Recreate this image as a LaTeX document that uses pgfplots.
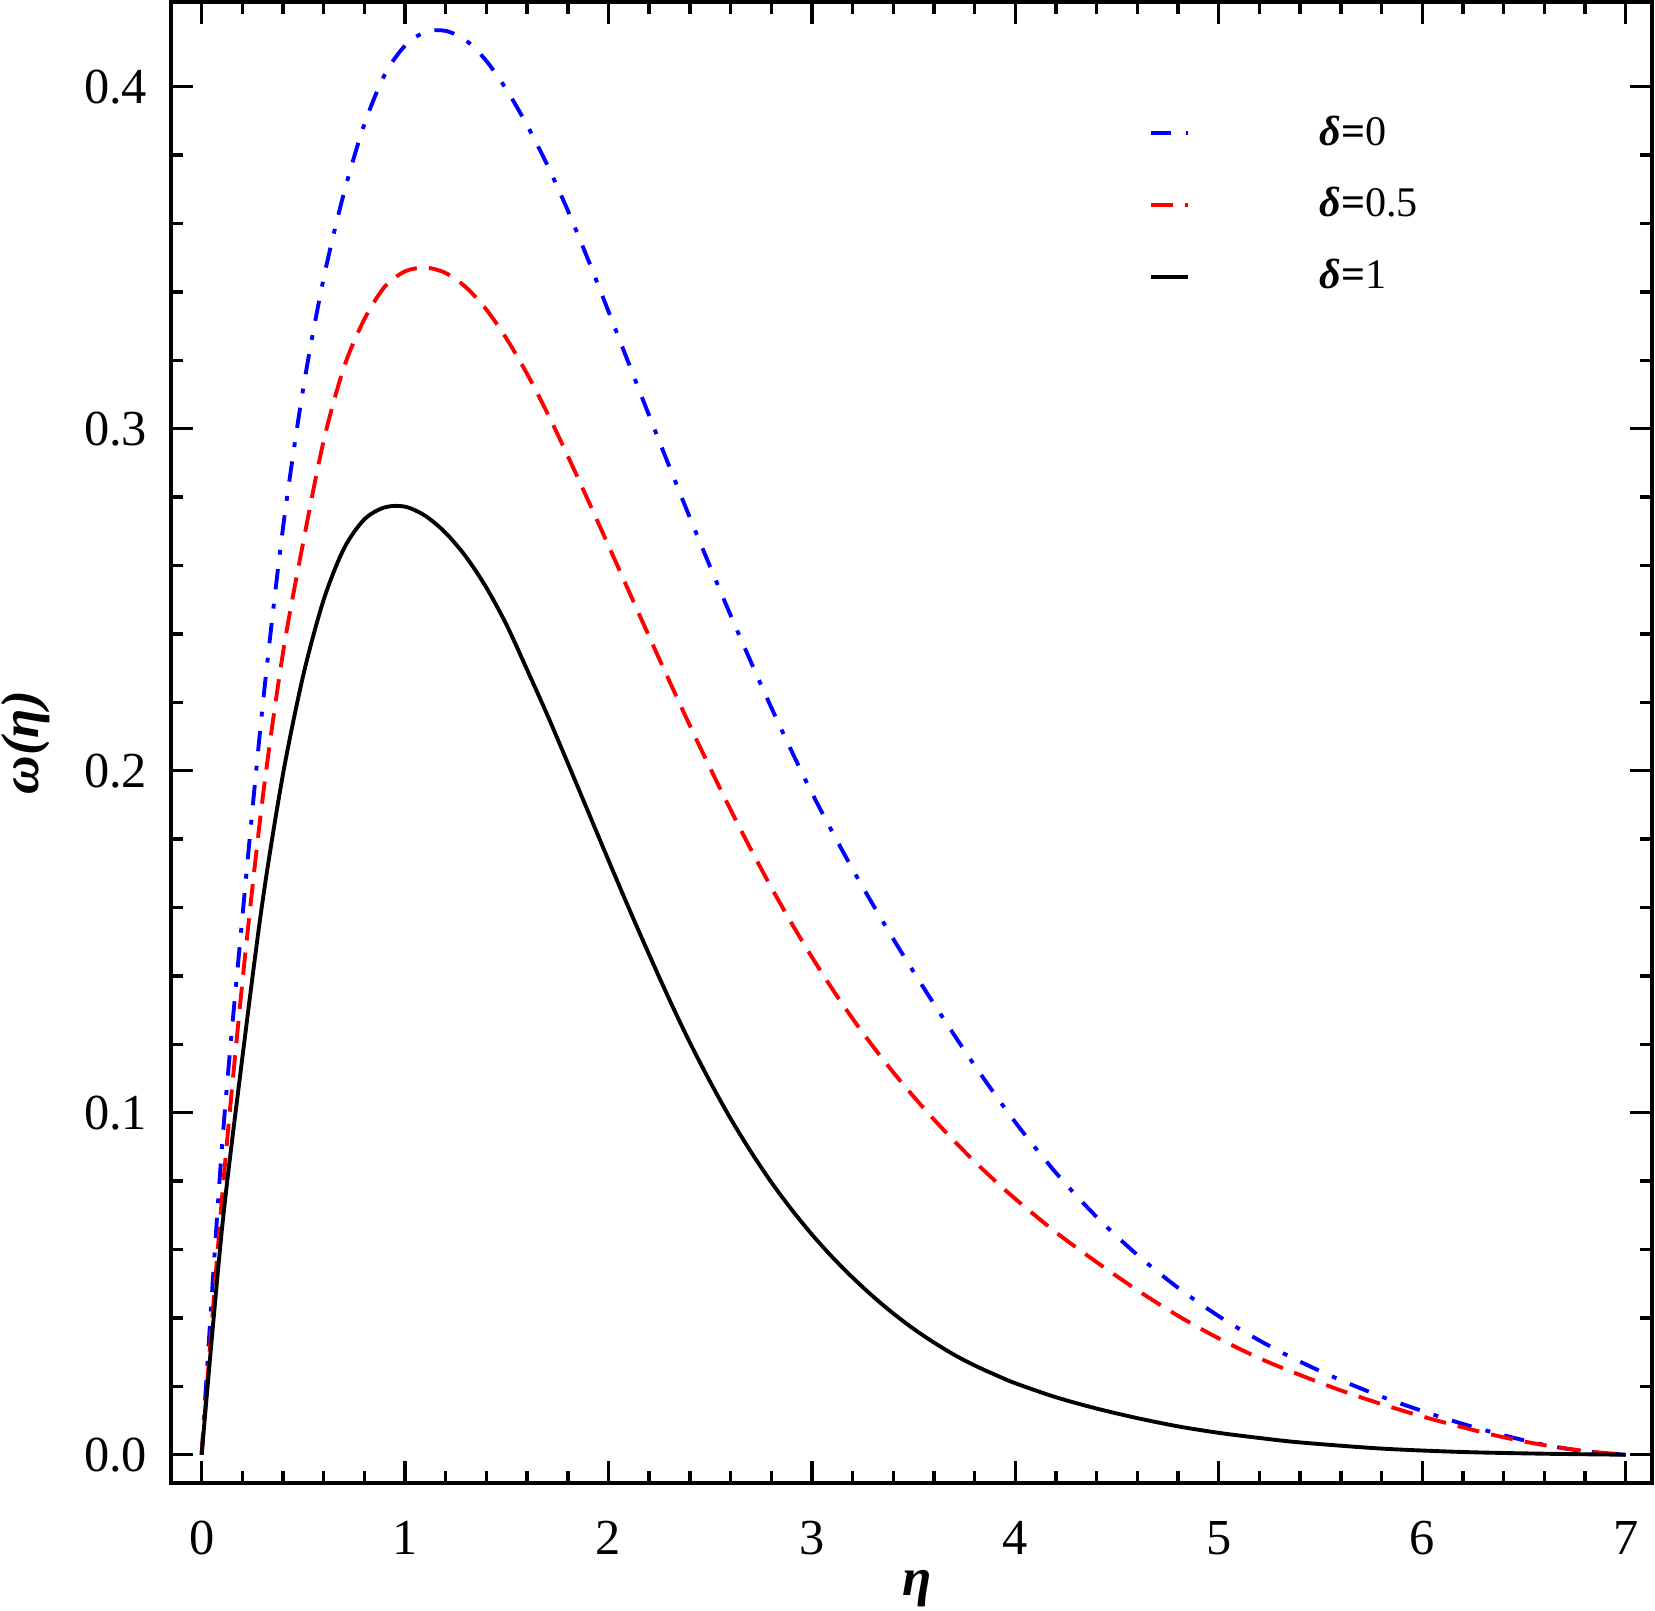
\documentclass[border=0pt]{standalone}
\usepackage{fontspec}
\setmainfont{Liberation Serif}
\usepackage{pgfplots}
\pgfplotsset{compat=1.18}

\begin{document}
\begin{tikzpicture}
\begin{axis}[
  scale only axis,
  width=305.5pt, height=305.5pt,
  xmin=-0.15, xmax=7.13,
  ymin=-0.0083, ymax=0.4247,
  xtick={0,1,...,7},
  ytick={0,0.1,0.2,0.3,0.4},
  minor x tick num=4,
  minor y tick num=4,
  tick align=inside,
  major tick length=4.5pt,
  minor tick length=2.4pt,
  every tick/.style={black, line width=0.7pt},
  axis line style={line width=0.9pt},
  /pgf/number format/assume math mode=true,
  yticklabel style={/pgf/number format/fixed, /pgf/number format/fixed zerofill,
    /pgf/number format/precision=1, xshift=-1.4pt},
  xticklabel style={yshift=-4.3pt},
  ticklabel style={font=\fontsize{10.4}{12}\selectfont},
  xlabel={\textbf{\textit{η}}},
  ylabel={\textbf{\textit{ω(η)}}},
  label style={font=\fontsize{11}{13}\selectfont, inner sep=0pt},
  xlabel style={at={(axis description cs:0.504,-0.071)}, anchor=center},
  ylabel style={at={(axis description cs:-0.098,0.5)}, anchor=center},
  legend style={at={(axis description cs:0.6597,0.927)}, anchor=north west,
    draw=none, fill=none, inner sep=0pt, row sep=5.8pt, column sep=0pt,
    font=\fontsize{8.7}{11}\selectfont,
    nodes={inner sep=0pt, text height=7pt, text depth=2pt}},
  legend cell align=left,
  legend image code/.code={\draw[#1] (0pt,0pt) -- (7.6pt,0pt);},
]
% delta = 0
\addplot[blue, line width=0.8pt, dash pattern=on 4.2pt off 3pt on 1pt off 3pt, smooth, tension=0.5] coordinates {
(0,0) (0.1,0.090) (0.2,0.157) (0.3,0.219) (0.4,0.271) (0.5,0.312) (0.6,0.344)
(0.7,0.369) (0.8,0.389) (0.9,0.4035) (1.0,0.4120) (1.1,0.4160) (1.2,0.4163)
(1.3,0.4135) (1.4,0.4075) (1.5,0.3990) (1.6,0.3887) (1.7,0.3770) (1.8,0.3638)
(1.9,0.3494) (2.0,0.3343) (2.2,0.3038) (2.4,0.2740) (2.6,0.2455) (2.8,0.2185)
(3.0,0.1935) (3.2,0.1712) (3.4,0.1508) (3.6,0.1318) (3.8,0.1138) (4.0,0.0972)
(4.2,0.0824) (4.4,0.0695) (4.6,0.0584) (4.8,0.0488) (5.0,0.0405) (5.2,0.0334)
(5.4,0.0272) (5.6,0.0218) (5.8,0.0170) (6.0,0.0128) (6.2,0.0090) (6.4,0.0057)
(6.6,0.0029) (6.8,0.0010) (7.0,0)};
\addlegendentry{\hspace*{26.8pt}\textbf{\textit{δ}=}0}
% delta = 0.5
\addplot[red, line width=0.8pt, dash pattern=on 4.6pt off 2.5pt, smooth, tension=0.5] coordinates {
(0,0) (0.1,0.075) (0.2,0.138) (0.3,0.192) (0.4,0.2345) (0.5,0.267) (0.6,0.2965)
(0.7,0.318) (0.8,0.332) (0.9,0.3415) (1.0,0.3460) (1.1,0.3471) (1.2,0.3455)
(1.3,0.3413) (1.4,0.3348) (1.5,0.3262) (1.6,0.3160) (1.7,0.3045) (1.8,0.2920)
(1.9,0.2790) (2.0,0.2658) (2.1,0.2525) (2.2,0.2392) (2.3,0.2261) (2.4,0.2132)
(2.5,0.2007) (2.6,0.1886) (2.7,0.1770) (2.8,0.1659) (2.9,0.1554) (3.0,0.1455)
(3.1,0.1362) (3.2,0.1275) (3.3,0.1194) (3.4,0.1118) (3.5,0.1047) (3.6,0.0980)
(3.7,0.0917) (3.8,0.0857) (3.9,0.0801) (4.0,0.0748) (4.2,0.0650) (4.4,0.0563)
(4.6,0.0481) (4.8,0.0406) (5.0,0.0340) (5.2,0.0282) (5.4,0.0233) (5.6,0.0188)
(5.8,0.0148) (6.0,0.0112) (6.2,0.0080) (6.4,0.0051) (6.6,0.0028) (6.8,0.0011) (7.0,0)};
\addlegendentry{\hspace*{26.8pt}\textbf{\textit{δ}=}0.5}
% delta = 1
\addplot[black, line width=0.8pt, smooth, tension=0.5] coordinates {
(0,0) (0.1,0.066) (0.2,0.116) (0.3,0.162) (0.4,0.199) (0.5,0.228) (0.6,0.250)
(0.7,0.265) (0.8,0.2735) (0.9,0.2770) (1.0,0.2772) (1.1,0.2745) (1.2,0.2695)
(1.3,0.2625) (1.4,0.2535) (1.5,0.2425) (1.6,0.2295) (1.7,0.2162) (1.8,0.2022)
(1.9,0.1880) (2.0,0.1738) (2.1,0.1598) (2.2,0.1462) (2.3,0.1330) (2.4,0.1205)
(2.5,0.1090) (2.6,0.0983) (2.7,0.0886) (2.8,0.0797) (2.9,0.0717) (3.0,0.0644)
(3.1,0.0578) (3.2,0.0518) (3.3,0.0463) (3.4,0.0413) (3.5,0.0368) (3.6,0.0328)
(3.7,0.0292) (3.8,0.0261) (3.9,0.0234) (4.0,0.0209) (4.2,0.0168) (4.4,0.0135)
(4.6,0.0107) (4.8,0.0083) (5.0,0.0064) (5.2,0.0049) (5.4,0.0036) (5.8,0.0018)
(6.2,0.0008) (6.6,0.0003) (7.0,0)};
\addlegendentry{\hspace*{26.8pt}\textbf{\textit{δ}=}1}
\end{axis}
\path (current axis.south west) ++(-35.3pt,-26.2pt);
\path (current axis.north east) ++(0.6pt,0.45pt);
\end{tikzpicture}
\end{document}
